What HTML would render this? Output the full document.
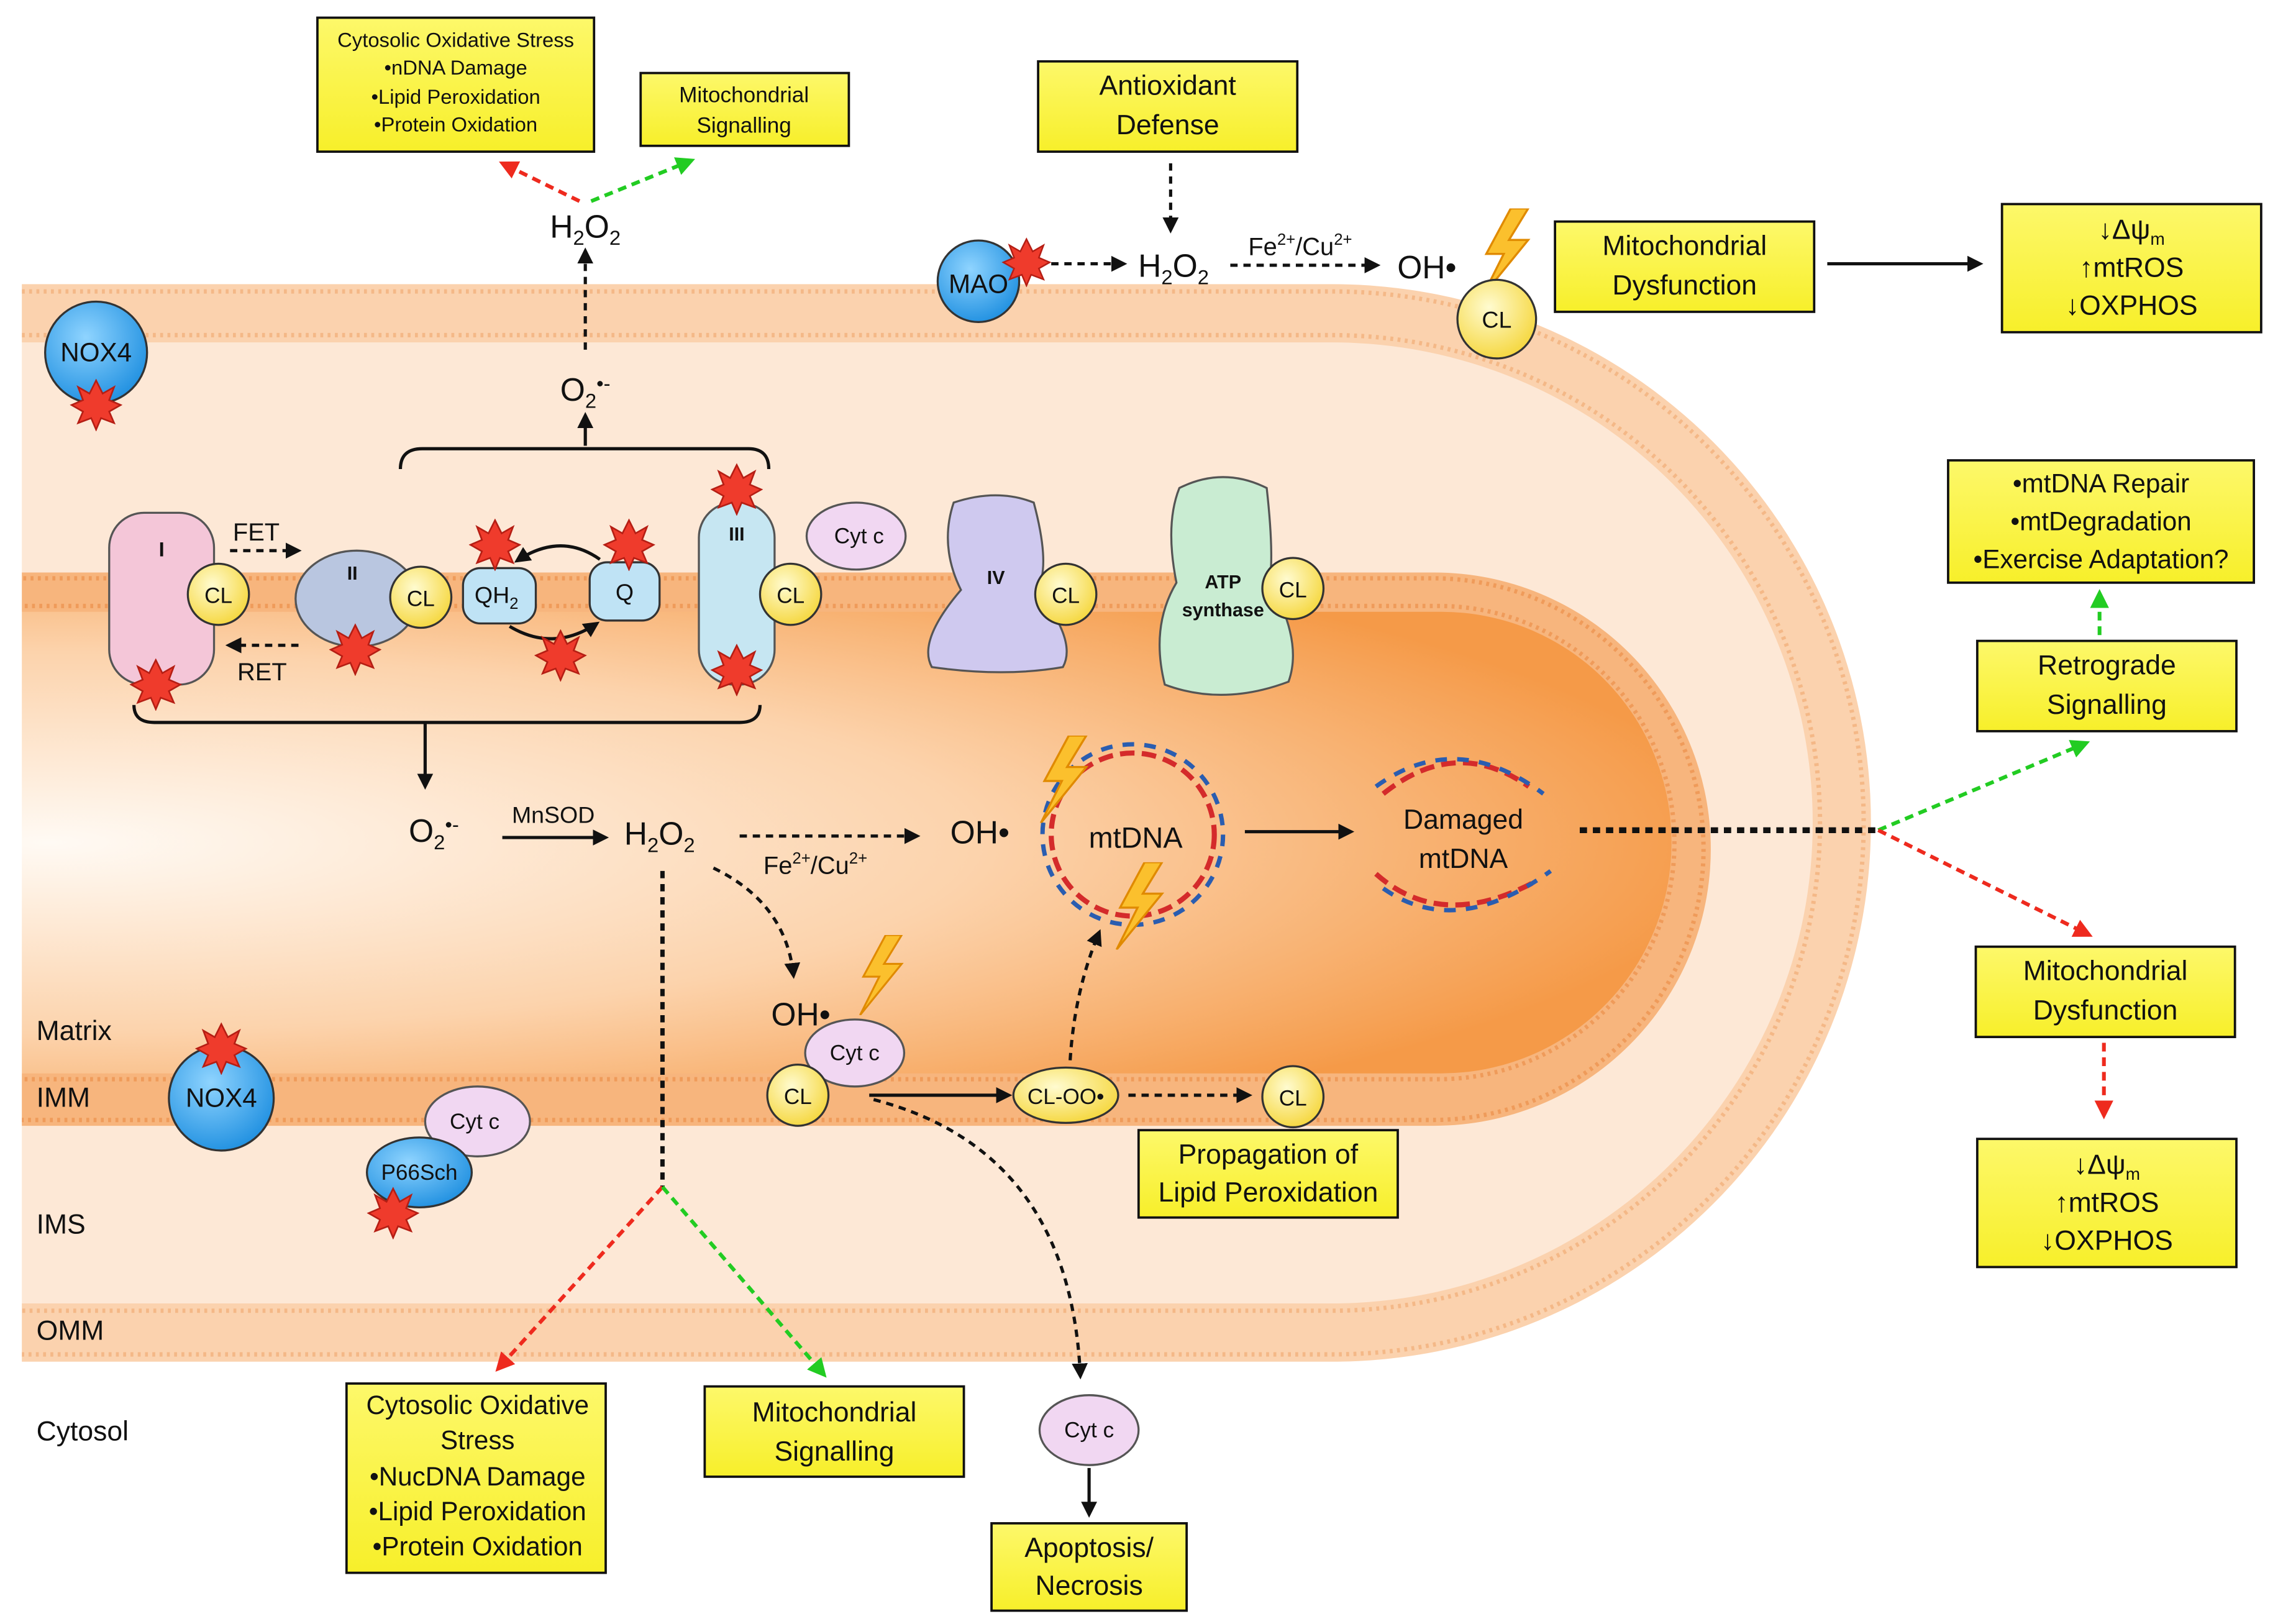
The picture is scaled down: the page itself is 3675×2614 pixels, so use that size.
<!DOCTYPE html>
<html><head><meta charset="utf-8"><style>
html,body{margin:0;padding:0;background:#fff;}
svg{display:block;}
text{font-family:"Liberation Sans",sans-serif;fill:#111;}
.bx{fill:url(#yb);stroke:#111;stroke-width:1.6;}
.d{fill:none;stroke:#111;stroke-width:2.2;stroke-dasharray:5 4;}
.dt{fill:none;stroke:#111;stroke-width:4;stroke-dasharray:5 4;}
.s{fill:none;stroke:#111;stroke-width:2.2;}
.g{fill:none;stroke:#22cc22;stroke-width:2.6;stroke-dasharray:6 4;}
.r{fill:none;stroke:#ee2a1e;stroke-width:2.6;stroke-dasharray:6 4;}
.cl{fill:url(#clg);stroke:#333;stroke-width:1.4;}
</style></head><body>
<svg width="3675" height="2614" viewBox="0 0 1568 1115" xmlns="http://www.w3.org/2000/svg">
<defs>
<linearGradient id="yb" x1="0" y1="0" x2="0" y2="1"><stop offset="0" stop-color="#fdf86a"/><stop offset="1" stop-color="#f7ef2a"/></linearGradient>
<radialGradient id="clg" cx="0.4" cy="0.35" r="0.7"><stop offset="0" stop-color="#fffbd0"/><stop offset="1" stop-color="#f5d63a"/></radialGradient>
<radialGradient id="mx" cx="0.28" cy="0.5" r="0.75"><stop offset="0" stop-color="#fffaf4"/><stop offset="0.55" stop-color="#fcd3ac"/><stop offset="1" stop-color="#f59a48"/></radialGradient>
<radialGradient id="bl" cx="0.4" cy="0.35" r="0.7"><stop offset="0" stop-color="#8fd4ff"/><stop offset="1" stop-color="#1e8fe0"/></radialGradient>
<marker id="a" viewBox="0 0 10 10" refX="8" refY="5" markerWidth="5" markerHeight="5" orient="auto"><path d="M0,0L10,5L0,10z" fill="#111"/></marker>
<marker id="ag" viewBox="0 0 10 10" refX="8" refY="5" markerWidth="5" markerHeight="5" orient="auto"><path d="M0,0L10,5L0,10z" fill="#22cc22"/></marker>
<marker id="ar" viewBox="0 0 10 10" refX="8" refY="5" markerWidth="5" markerHeight="5" orient="auto"><path d="M0,0L10,5L0,10z" fill="#ee2a1e"/></marker>
<symbol id="st" viewBox="-16 -16 32 32"><polygon points="0,-15 4,-7 11,-11 8,-3 15,0 8,4 11,11 3,8 0,15 -3,8 -11,11 -8,4 -15,0 -8,-3 -11,-11 -4,-7" fill="#ef3b2c" stroke="#b51e14" stroke-width="1"/></symbol>
<symbol id="lt" viewBox="0 0 30 50"><polygon points="18,0 4,26 14,26 2,50 28,18 17,18 28,0" fill="#fbc02d" stroke="#e08a00" stroke-width="1.2"/></symbol>
</defs>

<!-- membranes -->
<rect x="-400" y="195" width="1685" height="740" rx="370" fill="#fbd2ae"/>
<rect x="-400" y="200" width="1680" height="730" rx="365" fill="none" stroke="#f4b887" stroke-width="3" stroke-dasharray="2 3"/>
<rect x="-400" y="230" width="1650" height="670" rx="335" fill="none" stroke="#f4b887" stroke-width="3" stroke-dasharray="2 3"/>
<rect x="-400" y="235" width="1645" height="660" rx="330" fill="#fde8d6"/>
<rect x="-400" y="393" width="1575" height="380" rx="190" fill="#f7b57d"/>
<rect x="-400" y="397" width="1570" height="372" rx="186" fill="none" stroke="#ef9b5a" stroke-width="3" stroke-dasharray="2 3"/>
<rect x="-400" y="416" width="1550" height="325" rx="162" fill="none" stroke="#ef9b5a" stroke-width="3" stroke-dasharray="2 3"/>
<rect x="-400" y="420" width="1548" height="317" rx="158" fill="url(#mx)"/>
<rect x="0" y="0" width="15" height="1115" fill="#fff"/>

<!-- labels -->
<g font-size="19"><text x="25" y="714">Matrix</text><text x="25" y="760">IMM</text><text x="25" y="847">IMS</text><text x="25" y="920">OMM</text><text x="25" y="989">Cytosol</text></g>

<!-- boxes -->
<rect class="bx" x="218" y="12" width="190" height="92"/>
<g font-size="14" text-anchor="middle"><text x="313" y="32">Cytosolic Oxidative Stress</text><text x="313" y="51">•nDNA Damage</text><text x="313" y="71">•Lipid Peroxidation</text><text x="313" y="90">•Protein Oxidation</text></g>
<rect class="bx" x="440" y="50" width="143" height="50"/>
<g font-size="15" text-anchor="middle"><text x="511" y="70">Mitochondrial</text><text x="511" y="91">Signalling</text></g>
<g font-size="19" text-anchor="middle">
<rect class="bx" x="713" y="42" width="178" height="62"/><text x="802" y="65">Antioxidant</text><text x="802" y="92">Defense</text>
<rect class="bx" x="1068" y="152" width="178" height="62"/><text x="1157" y="175">Mitochondrial</text><text x="1157" y="202">Dysfunction</text>
<rect class="bx" x="1375" y="140" width="178" height="88"/><text x="1464" y="164">↓Δψ<tspan font-size="12" dy="4">m</tspan></text><text x="1464" y="190">↑mtROS</text><text x="1464" y="216">↓OXPHOS</text>
<rect class="bx" x="1338" y="316" width="210" height="84"/><text x="1443" y="338" font-size="18">•mtDNA Repair</text><text x="1443" y="364" font-size="18">•mtDegradation</text><text x="1443" y="390" font-size="18">•Exercise Adaptation?</text>
<rect class="bx" x="1358" y="440" width="178" height="62"/><text x="1447" y="463">Retrograde</text><text x="1447" y="490">Signalling</text>
<rect class="bx" x="1357" y="650" width="178" height="62"/><text x="1446" y="673">Mitochondrial</text><text x="1446" y="700">Dysfunction</text>
<rect class="bx" x="1358" y="782" width="178" height="88"/><text x="1447" y="806">↓Δψ<tspan font-size="12" dy="4">m</tspan></text><text x="1447" y="832">↑mtROS</text><text x="1447" y="858">↓OXPHOS</text>
<rect class="bx" x="782" y="776" width="178" height="60"/><text x="871" y="799">Propagation of</text><text x="871" y="825">Lipid Peroxidation</text>
<rect class="bx" x="238" y="950" width="178" height="130"/><text x="328" y="971" font-size="18">Cytosolic Oxidative</text><text x="328" y="995" font-size="18">Stress</text><text x="328" y="1020" font-size="18">•NucDNA Damage</text><text x="328" y="1044" font-size="18">•Lipid Peroxidation</text><text x="328" y="1068" font-size="18">•Protein Oxidation</text>
<rect class="bx" x="484" y="952" width="178" height="62"/><text x="573" y="976">Mitochondrial</text><text x="573" y="1003">Signalling</text>
<rect class="bx" x="681" y="1046" width="134" height="60"/><text x="748" y="1069">Apoptosis/</text><text x="748" y="1095">Necrosis</text>
</g>

<!-- top H2O2 branch -->
<text x="402" y="163" font-size="22" text-anchor="middle">H<tspan font-size="14" dy="5">2</tspan><tspan dy="-5">O</tspan><tspan font-size="14" dy="5">2</tspan></text>
<path class="r" d="M398,138 L345,112" marker-end="url(#ar)"/>
<path class="g" d="M406,138 L475,110" marker-end="url(#ag)"/>
<path class="d" d="M402,240 L402,172" marker-end="url(#a)"/>
<text x="402" y="275" font-size="22" text-anchor="middle">O<tspan font-size="14" dy="5">2</tspan><tspan font-size="14" dy="-12">•-</tspan></text>
<path class="s" d="M402,306 L402,285" marker-end="url(#a)"/>
<path class="s" d="M275,322 Q275,308 290,308 L514,308 Q528,308 528,322"/>

<!-- MAO branch -->
<circle cx="672" cy="193" r="28" fill="url(#bl)" stroke="#333" stroke-width="1.4"/><text x="672" y="201" font-size="18" text-anchor="middle">MAO</text>
<use href="#st" x="688" y="163" width="34" height="34"/>
<path class="d" d="M722,181 L772,181" marker-end="url(#a)"/>
<text x="806" y="190" font-size="22" text-anchor="middle">H<tspan font-size="14" dy="5">2</tspan><tspan dy="-5">O</tspan><tspan font-size="14" dy="5">2</tspan></text>
<path class="d" d="M804,112 L804,158" marker-end="url(#a)"/>
<text x="893" y="175" font-size="17" text-anchor="middle">Fe<tspan font-size="11" dy="-7">2+</tspan><tspan dy="7">/Cu</tspan><tspan font-size="11" dy="-7">2+</tspan></text>
<path class="d" d="M845,182 L946,182" marker-end="url(#a)"/>
<text x="980" y="191" font-size="22" text-anchor="middle">OH•</text>
<use href="#lt" x="1013" y="143" width="42" height="60"/>
<circle class="cl" cx="1028" cy="219" r="27"/><text x="1028" y="225" font-size="16" text-anchor="middle">CL</text>
<path class="s" d="M1255,181 L1360,181" marker-end="url(#a)"/>

<!-- NOX4 top -->
<circle cx="66" cy="242" r="35" fill="url(#bl)" stroke="#333" stroke-width="1.4"/><text x="66" y="248" font-size="18" text-anchor="middle">NOX4</text>
<use href="#st" x="48" y="260" width="36" height="36"/>

<!-- ETC -->
<rect x="75" y="352" width="72" height="118" rx="24" fill="#f4c6d8" stroke="#555" stroke-width="1.4"/><text x="111" y="382" font-size="14" font-weight="bold" text-anchor="middle">I</text>
<circle class="cl" cx="150" cy="408" r="21"/><text x="150" y="414" font-size="15" text-anchor="middle">CL</text>
<use href="#st" x="89" y="452" width="36" height="36"/>
<path class="d" d="M158,378 L205,378" marker-end="url(#a)"/><text x="176" y="371" font-size="17" text-anchor="middle">FET</text>
<path class="d" d="M205,443 L157,443" marker-end="url(#a)"/><text x="180" y="467" font-size="17" text-anchor="middle">RET</text>
<ellipse cx="245" cy="411" rx="42" ry="33" fill="#b9c6e0" stroke="#555" stroke-width="1.4"/><text x="242" y="398" font-size="13" font-weight="bold" text-anchor="middle">II</text>
<circle class="cl" cx="289" cy="410" r="21"/><text x="289" y="416" font-size="15" text-anchor="middle">CL</text>
<use href="#st" x="226" y="428" width="36" height="36"/>
<rect x="318" y="390" width="50" height="38" rx="12" fill="#bfe3f5" stroke="#333" stroke-width="1.4"/><text x="341" y="414" font-size="16" text-anchor="middle">QH<tspan font-size="11" dy="4">2</tspan></text>
<rect x="405" y="386" width="48" height="40" rx="12" fill="#bfe3f5" stroke="#333" stroke-width="1.4"/><text x="429" y="412" font-size="16" text-anchor="middle">Q</text>
<path class="s" d="M412,384 Q385,365 355,385" marker-end="url(#a)"/>
<path class="s" d="M350,430 Q380,448 410,428" marker-end="url(#a)"/>
<use href="#st" x="322" y="356" width="36" height="36"/>
<use href="#st" x="414" y="356" width="36" height="36"/>
<use href="#st" x="367" y="432" width="36" height="36"/>
<rect x="480" y="345" width="52" height="125" rx="24" fill="#c6e6f2" stroke="#555" stroke-width="1.4"/><text x="506" y="371" font-size="13" font-weight="bold" text-anchor="middle">III</text>
<circle class="cl" cx="543" cy="408" r="21"/><text x="543" y="414" font-size="15" text-anchor="middle">CL</text>
<use href="#st" x="488" y="318" width="36" height="36"/>
<use href="#st" x="488" y="442" width="36" height="36"/>
<ellipse cx="588" cy="368" rx="34" ry="23" fill="#f1d7f2" stroke="#555" stroke-width="1.4"/><text x="590" y="373" font-size="15" text-anchor="middle">Cyt c</text>
<path d="M655,345 Q685,335 710,345 Q722,390 712,405 Q740,440 730,458 Q690,465 640,458 Q630,440 660,405 Q645,375 655,345z" fill="#cfc9ef" stroke="#555" stroke-width="1.4"/><text x="684" y="401" font-size="13" font-weight="bold" text-anchor="middle">IV</text>
<circle class="cl" cx="732" cy="408" r="21"/><text x="732" y="414" font-size="15" text-anchor="middle">CL</text>
<path d="M810,335 Q840,320 870,335 Q875,380 872,400 Q895,440 885,468 Q840,485 800,470 Q790,430 808,400 Q800,360 810,335z" fill="#c9ecd2" stroke="#555" stroke-width="1.4"/>
<text x="840" y="404" font-size="13" font-weight="bold" text-anchor="middle">ATP</text><text x="840" y="423" font-size="13" font-weight="bold" text-anchor="middle">synthase</text>
<circle class="cl" cx="888" cy="404" r="21"/><text x="888" y="410" font-size="15" text-anchor="middle">CL</text>

<!-- bottom bracket -->
<path class="s" d="M92,484 Q92,496 106,496 L508,496 Q522,496 522,484"/>
<path class="s" d="M292,496 L292,540" marker-end="url(#a)"/>
<text x="298" y="578" font-size="22" text-anchor="middle">O<tspan font-size="14" dy="5">2</tspan><tspan font-size="14" dy="-12">•-</tspan></text>
<text x="380" y="565" font-size="16" text-anchor="middle">MnSOD</text>
<path class="s" d="M345,575 L416,575" marker-end="url(#a)"/>
<text x="453" y="580" font-size="22" text-anchor="middle">H<tspan font-size="14" dy="5">2</tspan><tspan dy="-5">O</tspan><tspan font-size="14" dy="5">2</tspan></text>
<path class="d" d="M508,574 L630,574" marker-end="url(#a)"/>
<text x="560" y="600" font-size="17" text-anchor="middle">Fe<tspan font-size="11" dy="-7">2+</tspan><tspan dy="7">/Cu</tspan><tspan font-size="11" dy="-7">2+</tspan></text>
<text x="673" y="579" font-size="22" text-anchor="middle">OH•</text>
<!-- mtDNA -->
<circle cx="778" cy="573" r="56" fill="none" stroke="#d42b2b" stroke-width="3.5" stroke-dasharray="10 5"/>
<circle cx="778" cy="573" r="62" fill="none" stroke="#2a5db0" stroke-width="3" stroke-dasharray="8 7"/>
<text x="780" y="582" font-size="20" text-anchor="middle">mtDNA</text>
<use href="#lt" x="708" y="505" width="45" height="60"/>
<use href="#lt" x="760" y="592" width="45" height="60"/>
<path class="s" d="M855,571 L928,571" marker-end="url(#a)"/>
<path d="M950,545 Q1000,505 1050,540 M945,600 Q990,640 1055,605" fill="none" stroke="#d42b2b" stroke-width="3.5" stroke-dasharray="10 5"/>
<path d="M945,540 Q1000,500 1060,545 M950,610 Q1000,645 1065,598" fill="none" stroke="#2a5db0" stroke-width="3" stroke-dasharray="8 7"/>
<text x="1005" y="569" font-size="19" text-anchor="middle">Damaged</text><text x="1005" y="596" font-size="19" text-anchor="middle">mtDNA</text>
<path class="dt" d="M1085,570 L1290,570"/>
<path class="g" d="M1290,570 L1433,510" marker-end="url(#ag)"/>
<path class="r" d="M1290,570 L1435,642" marker-end="url(#ar)"/>
<path class="g" d="M1442,436 L1442,407" marker-end="url(#ag)"/>
<path class="r" d="M1445,716 L1445,766" marker-end="url(#ar)"/>

<!-- H2O2 downward -->
<path class="dt" d="M455,598 L455,815" style="stroke-width:3"/>
<path class="r" d="M455,815 L342,940" marker-end="url(#ar)"/>
<path class="g" d="M455,815 L566,944" marker-end="url(#ag)"/>
<path class="d" d="M490,596 Q540,620 545,670" marker-end="url(#a)"/>
<text x="550" y="704" font-size="22" text-anchor="middle">OH•</text>
<use href="#lt" x="585" y="642" width="40" height="55"/>
<ellipse cx="587" cy="723" rx="34" ry="23" fill="#f1d7f2" stroke="#555" stroke-width="1.4"/><text x="587" y="728" font-size="15" text-anchor="middle">Cyt c</text>
<circle class="cl" cx="548" cy="752" r="21"/><text x="548" y="758" font-size="15" text-anchor="middle">CL</text>
<path class="s" d="M597,752 L693,752" marker-end="url(#a)"/>
<ellipse cx="732" cy="752" rx="36" ry="19" fill="url(#clg)" stroke="#333" stroke-width="1.4"/><text x="732" y="758" font-size="15" text-anchor="middle">CL-OO•</text>
<path class="d" d="M775,752 L858,752" marker-end="url(#a)"/>
<circle class="cl" cx="888" cy="753" r="21"/><text x="888" y="759" font-size="15" text-anchor="middle">CL</text>
<path class="d" d="M735,728 Q738,680 755,640" marker-end="url(#a)"/>
<path class="d" d="M600,755 Q735,790 742,945" marker-end="url(#a)"/>
<ellipse cx="748" cy="982" rx="34" ry="24" fill="#f1d7f2" stroke="#555" stroke-width="1.4"/><text x="748" y="987" font-size="15" text-anchor="middle">Cyt c</text>
<path class="s" d="M748,1008 L748,1040" marker-end="url(#a)"/>

<!-- bottom left -->
<circle cx="152" cy="754" r="36" fill="url(#bl)" stroke="#333" stroke-width="1.4"/><text x="152" y="760" font-size="18" text-anchor="middle">NOX4</text>
<use href="#st" x="134" y="702" width="36" height="36"/>
<ellipse cx="328" cy="770" rx="36" ry="24" fill="#f1d7f2" stroke="#555" stroke-width="1.4"/><text x="326" y="775" font-size="15" text-anchor="middle">Cyt c</text>
<ellipse cx="288" cy="805" rx="36" ry="24" fill="url(#bl)" stroke="#333" stroke-width="1.4"/><text x="288" y="810" font-size="15" text-anchor="middle">P66Sch</text>
<use href="#st" x="252" y="815" width="36" height="36"/>
</svg>
</body></html>
